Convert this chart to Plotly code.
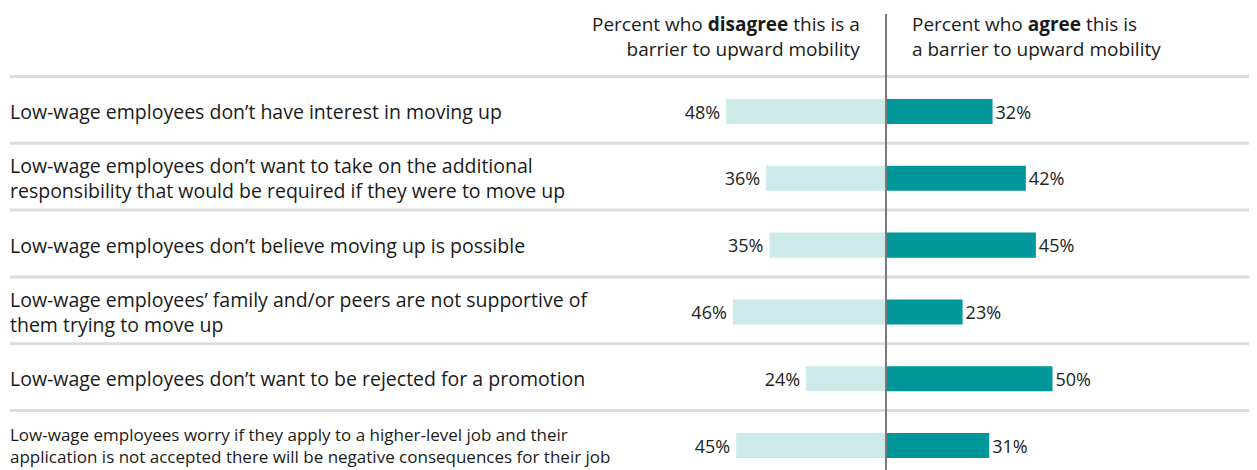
import plotly.graph_objects as go

statements = [
    "Low-wage employees don’t have interest in moving up",
    "Low-wage employees don’t want to take on the additional<br>responsibility that would be required if they were to move up",
    "Low-wage employees don’t believe moving up is possible",
    "Low-wage employees’ family and/or peers are not supportive of<br>them trying to move up",
    "Low-wage employees don’t want to be rejected for a promotion",
    "Low-wage employees worry if they apply to a higher-level job and their<br>application is not accepted there will be negative consequences for their job",
]
disagree = [48, 36, 35, 46, 24, 45]
agree = [32, 42, 45, 23, 50, 31]

LIGHT = '#cdeaea'
DARK = '#00979a'
FONT = 'Open Sans'
# the page body adds an 8px margin, so the figure is drawn 8px smaller
OFF = 8
W, H = 1257 - OFF, 470 - OFF
CENTER = 886 - OFF      # x pixel of the zero line
ROW0 = 111.5 - OFF      # y pixel of first row centre
ROW_H = 66.8
PX_PER = 3.33

rows = list(range(len(statements)))

fig = go.Figure()
fig.add_trace(go.Bar(
    y=rows,
    x=[-v for v in disagree],
    orientation='h',
    width=0.375,
    marker=dict(color=LIGHT, line=dict(width=0)),
    text=[f'{v}%\u2009' for v in disagree],
    textposition='outside',
    constraintext='none',
    textfont=dict(size=18, color='#222', family=FONT),
    cliponaxis=False,
))
fig.add_trace(go.Bar(
    y=rows,
    x=agree,
    orientation='h',
    width=0.375,
    marker=dict(color=DARK, line=dict(width=0)),
    text=[f'{v}%' for v in agree],
    textposition='outside',
    constraintext='none',
    textfont=dict(size=18, color='#222', family=FONT),
    cliponaxis=False,
))

# row labels and separators
for i, s in enumerate(statements):
    fig.add_annotation(
        x=0, xref='paper', xanchor='left',
        y=i, yref='y', yanchor='middle',
        text=s, align='left', showarrow=False,
        font=dict(size=17 if i == 5 else 19.5, color='#1a1a1a', family=FONT),
    )
    fig.add_shape(
        type='line', xref='paper', yref='y',
        x0=2 / W, x1=1, y0=i - 0.524, y1=i - 0.524,
        line=dict(color='#dcdcdc', width=3),
        layer='below',
    )

# zero line
fig.add_shape(
    type='line', xref='x', yref='paper',
    x0=0, x1=0, y0=0, y1=1 - 6 / H,
    line=dict(color='#7a7a7a', width=2),
)

# column headers
fig.add_annotation(
    x=854 / W, xref='paper', xanchor='right',
    y=1 - 1 / H, yref='paper', yanchor='top',
    text='Percent who <b>disagree</b> this is a<br>barrier to upward mobility',
    align='right', showarrow=False,
    font=dict(size=19, color='#1a1a1a', family=FONT),
)
fig.add_annotation(
    x=902 / W, xref='paper', xanchor='left',
    y=1 - 1 / H, yref='paper', yanchor='top',
    text='Percent who <b>agree</b> this is<br>a barrier to upward mobility',
    align='left', showarrow=False,
    font=dict(size=19, color='#1a1a1a', family=FONT),
)

fig.update_xaxes(
    range=[-CENTER / PX_PER, (W - CENTER) / PX_PER],
    visible=False, fixedrange=True,
)
fig.update_yaxes(
    range=[(H - ROW0) / ROW_H, -ROW0 / ROW_H],
    visible=False, fixedrange=True,
)
fig.update_layout(
    width=W, height=H,
    margin=dict(l=0, r=0, t=0, b=0),
    barmode='overlay',
    showlegend=False,
    plot_bgcolor='white',
    paper_bgcolor='white',
    font=dict(family=FONT, color='#1a1a1a'),
)

fig.write_html('out.html')
